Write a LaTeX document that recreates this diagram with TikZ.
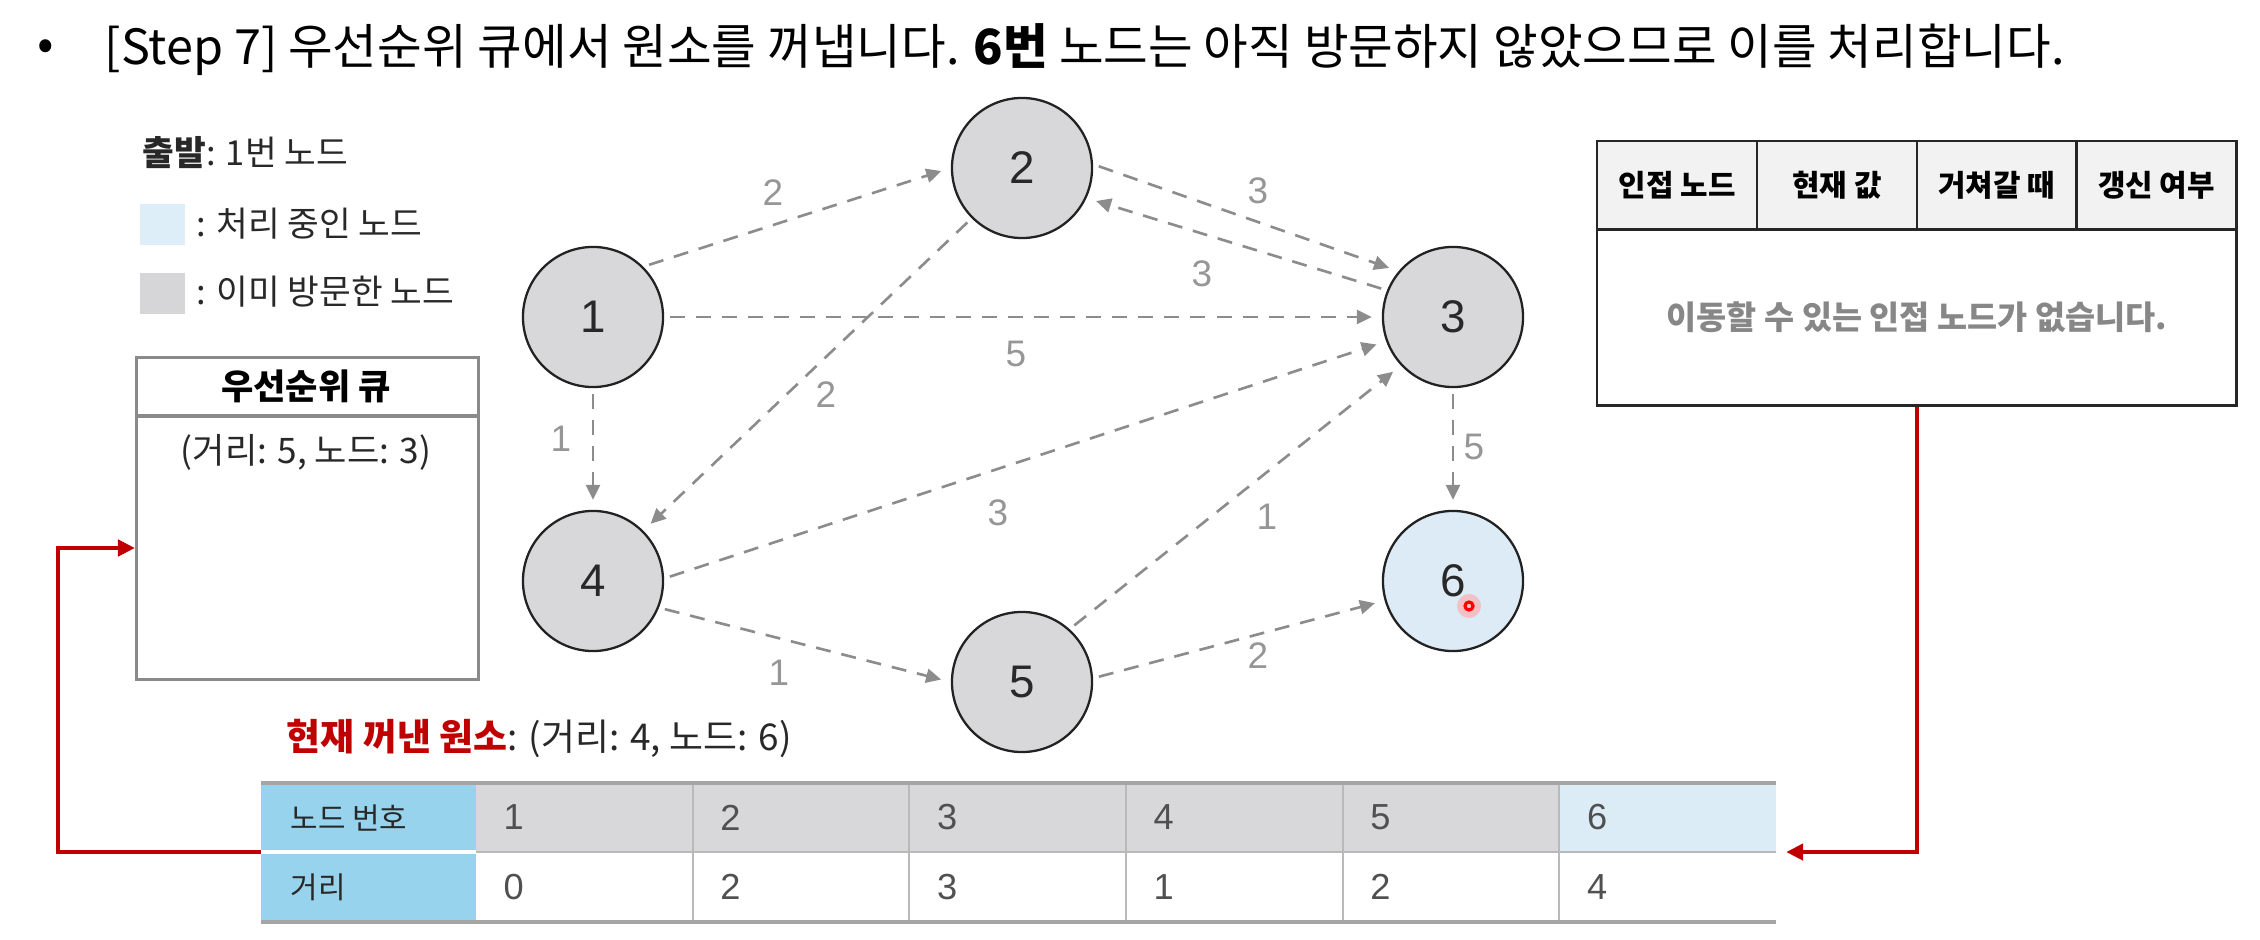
\documentclass[tikz,border=0pt]{standalone}
\usepackage{fontspec}
\setmainfont{Noto Sans CJK KR}
\newfontfamily\numfont{Liberation Sans}
\usetikzlibrary{arrows.meta}
\definecolor{nodegray}{RGB}{216,216,219}
\definecolor{nodeblue}{RGB}{220,235,246}
\definecolor{nodeborder}{RGB}{34,34,34}
\definecolor{textdark}{RGB}{40,40,40}
\definecolor{edgegray}{RGB}{140,140,140}
\definecolor{labelgray}{RGB}{150,150,150}
\definecolor{pqgray}{RGB}{138,138,138}
\definecolor{hdrgray}{RGB}{242,242,242}
\definecolor{skyblue}{RGB}{151,211,236}
\definecolor{cellgray}{RGB}{216,216,219}
\definecolor{cellblue}{RGB}{220,236,247}
\definecolor{tblborder}{RGB}{165,165,165}
\definecolor{tbldiv}{RGB}{185,185,185}
\definecolor{darkred}{RGB}{192,0,0}
\definecolor{bodygray}{RGB}{135,135,135}
\definecolor{numgray}{RGB}{80,80,80}
\definecolor{legblue}{RGB}{221,238,248}
\definecolor{leggray}{RGB}{214,214,216}
\tikzset{
  gnode/.style={circle, draw=nodeborder, line width=0.65pt, fill=nodegray, minimum size=1.40cm, inner sep=0pt, font=\numfont\fontsize{13}{14}\selectfont, text=textdark},
  wedge/.style={draw=edgegray, line width=0.75pt, dash pattern=on 0.15cm off 0.11cm, -{Triangle[length=0.15cm,width=0.14cm]}, shorten <=0.06cm, shorten >=0.1cm},
  wlabel/.style={font=\numfont\fontsize{10.5}{11}\selectfont, text=labelgray, inner sep=0pt},
  redline/.style={draw=darkred, line width=1.3pt, -{Triangle[length=0.17cm,width=0.16cm]}},
  legtext/.style={anchor=west, inner sep=0pt, font=\fontsize{9.8}{11}\selectfont, text=textdark},
  legbox/.style={anchor=north west, inner sep=0pt, outer sep=0pt, minimum width=0.45cm, minimum height=0.41cm},
  adjhead/.style={anchor=north west, draw=black!85, line width=0.7pt, fill=hdrgray, minimum width=1.5975cm, minimum height=0.88cm, inner sep=0pt, font=\bfseries\fontsize{8.5}{10}\selectfont, text=black},
  cellbox/.style={anchor=north west, inner sep=0pt, outer sep=0pt, minimum width=2.1667cm, minimum height=0.69cm},
  tbltext/.style={anchor=west, inner sep=0pt, font=\fontsize{8.5}{10}\selectfont, text=textdark},
  tblnum/.style={anchor=west, inner sep=0pt, font=\numfont\fontsize{10.3}{11}\selectfont, text=numgray},
}
\begin{document}
\begin{tikzpicture}[x=0.01cm, y=-0.01cm]
\useasboundingbox (0,0) rectangle (2260,940);

% title
\node[inner sep=0pt, font=\fontsize{13.8}{16}\selectfont] (bullet) at (46,50) {•};
\node[anchor=west, inner sep=0pt, font=\fontsize{13.8}{16}\selectfont, text=black] (title) at (104,50)
  {[Step 7] 우선순위 큐에서 원소를 꺼냅니다. {\bfseries 6번} 노드는 아직 방문하지 않았으므로 이를 처리합니다.};

% legend
\node[legtext] (start) at (142,153) {{\bfseries 출발}: 1번 노드};
\node[legbox, fill=legblue] (lb1) at (140,204) {};
\node[legtext] (lt1) at (196,224) {: 처리 중인 노드};
\node[legbox, fill=leggray] (lb2) at (140,273) {};
\node[legtext] (lt2) at (196,292) {: 이미 방문한 노드};

% priority queue
\node[anchor=north west, draw=pqgray, line width=0.9pt, minimum width=3.42cm, minimum height=3.22cm, inner sep=0pt] (pq) at (135,356) {};
\coordinate (pqhl) at (135,416);
\draw[pqgray, line width=0.9pt] (pqhl) -- (pqhl -| pq.east);
\node[inner sep=0pt, font=\bfseries\fontsize{10}{11}\selectfont, text=black] (pqtitle) at (306,386) {우선순위 큐};
\node[inner sep=0pt, font=\fontsize{10}{11}\selectfont, text=textdark] (pqitem) at (306,452) {(거리: 5, 노드: 3)};

% graph nodes
\node[gnode] (n1) at (593,317) {1};
\node[gnode] (n2) at (1022,168) {2};
\node[gnode] (n3) at (1453,317) {3};
\node[gnode] (n4) at (593,581) {4};
\node[gnode] (n5) at (1022,682) {5};
\node[gnode, fill=nodeblue] (n6) at (1453,581) {6};

% edges
\draw[wedge] (n1.45) -- (n2.180);
\draw[wedge] (n2.3) -- (n3.140);
\draw[wedge] (n3.158) -- (n2.-25);
\draw[wedge] (n1.0) -- (n3.180);
\draw[wedge] (n2.225) -- (n4.45);
\draw[wedge] (n1.270) -- (n4.90);
\draw[wedge] (n4.2) -- (n3.200);
\draw[wedge] (n5.48) -- (n3.223);
\draw[wedge] (n4.-22) -- (n5.180);
\draw[wedge] (n5.3) -- (n6.196);
\draw[wedge] (n3.270) -- (n6.90);

% edge labels
\node[wlabel] (l12) at (773,193) {2};
\node[wlabel] (l23) at (1258,191) {3};
\node[wlabel] (l32) at (1202,274) {3};
\node[wlabel] (l13) at (1016,354) {5};
\node[wlabel] (l24) at (826,395) {2};
\node[wlabel] (l14) at (561,439) {1};
\node[wlabel] (l43) at (998,513) {3};
\node[wlabel] (l53) at (1267,517) {1};
\node[wlabel] (l45) at (779,673) {1};
\node[wlabel] (l56) at (1258,656) {2};
\node[wlabel] (l36) at (1474,447) {5};

% pointer dot
\fill[red!35, opacity=0.6] (1469,606) circle (0.12cm);
\draw[red, line width=0.9pt] (1469,606) circle (0.04cm);

% adjacency table
\node[adjhead] (a1) at (1596,140) {인접 노드};
\node[adjhead] (a2) at (1755.75,140) {현재 값};
\node[adjhead] (a3) at (1915.5,140) {거쳐갈 때};
\node[adjhead] (a4) at (2075.25,140) {갱신 여부};
\node[anchor=north west, draw=black!85, line width=0.7pt, minimum width=6.39cm, minimum height=1.76cm, inner sep=0pt, font=\bfseries\fontsize{9.3}{10}\selectfont, text=bodygray] (adjbody) at (1596,228) {이동할 수 있는 인접 노드가 없습니다.};

% current element
\node[anchor=west, inner sep=0pt, font=\fontsize{10.5}{12}\selectfont, text=textdark] (cur) at (286,738)
  {{\bfseries\color{darkred}현재 꺼낸 원소}: (거리: 4, 노드: 6)};

% distance table
\node[cellbox, fill=skyblue, minimum width=2.15cm] (h1) at (261,783) {};
\node[cellbox, fill=skyblue, minimum width=2.15cm, minimum height=0.70cm] (h2) at (261,852) {};
\node[cellbox, fill=cellgray] (d1) at (476,783) {};
\node[cellbox, fill=cellgray] (d2) at (692.67,783) {};
\node[cellbox, fill=cellgray] (d3) at (909.33,783) {};
\node[cellbox, fill=cellgray] (d4) at (1126,783) {};
\node[cellbox, fill=cellgray] (d5) at (1342.67,783) {};
\node[cellbox, fill=cellblue] (d6) at (1559.33,783) {};
\node[cellbox, minimum height=0.70cm] (e1) at (476,852) {};
\node[cellbox, minimum height=0.70cm] (e2) at (692.67,852) {};
\node[cellbox, minimum height=0.70cm] (e3) at (909.33,852) {};
\node[cellbox, minimum height=0.70cm] (e4) at (1126,852) {};
\node[cellbox, minimum height=0.70cm] (e5) at (1342.67,852) {};
\node[cellbox, minimum height=0.70cm] (e6) at (1559.33,852) {};
\draw[white, line width=1pt] (h1.south west) -- (h1.south east);
\draw[tbldiv, line width=0.5pt] (d1.south west) -- (d6.south east);
\foreach \c in {2,3,4,5,6} {
  \draw[tbldiv, line width=0.5pt] (d\c.north west) -- (e\c.south west);
}
\draw[tblborder, line width=0.9pt] (h1.north west) -- (d6.north east);
\draw[tblborder, line width=0.9pt] (h2.south west) -- (e6.south east);
\node[tbltext] (th1) at ([xshift=0.29cm]h1.west) {노드 번호};
\node[tbltext] (th2) at ([xshift=0.29cm]h2.west) {거리};
\node[tblnum] (v1) at ([xshift=0.27cm]d1.west) {1};
\node[tblnum] (v2) at ([xshift=0.27cm]d2.west) {2};
\node[tblnum] (v3) at ([xshift=0.27cm]d3.west) {3};
\node[tblnum] (v4) at ([xshift=0.27cm]d4.west) {4};
\node[tblnum] (v5) at ([xshift=0.27cm]d5.west) {5};
\node[tblnum] (v6) at ([xshift=0.27cm]d6.west) {6};
\node[tblnum] (w1) at ([xshift=0.27cm]e1.west) {0};
\node[tblnum] (w2) at ([xshift=0.27cm]e2.west) {2};
\node[tblnum] (w3) at ([xshift=0.27cm]e3.west) {3};
\node[tblnum] (w4) at ([xshift=0.27cm]e4.west) {1};
\node[tblnum] (w5) at ([xshift=0.27cm]e5.west) {2};
\node[tblnum] (w6) at ([xshift=0.27cm]e6.west) {4};

% red connectors
\coordinate (lbend) at (58,548);
\draw[redline] (h1.south west) -| (lbend) -- (lbend -| pq.west);
\draw[redline, shorten >=0.1cm] (adjbody.south) |- (d6.south east);
\end{tikzpicture}
\end{document}
